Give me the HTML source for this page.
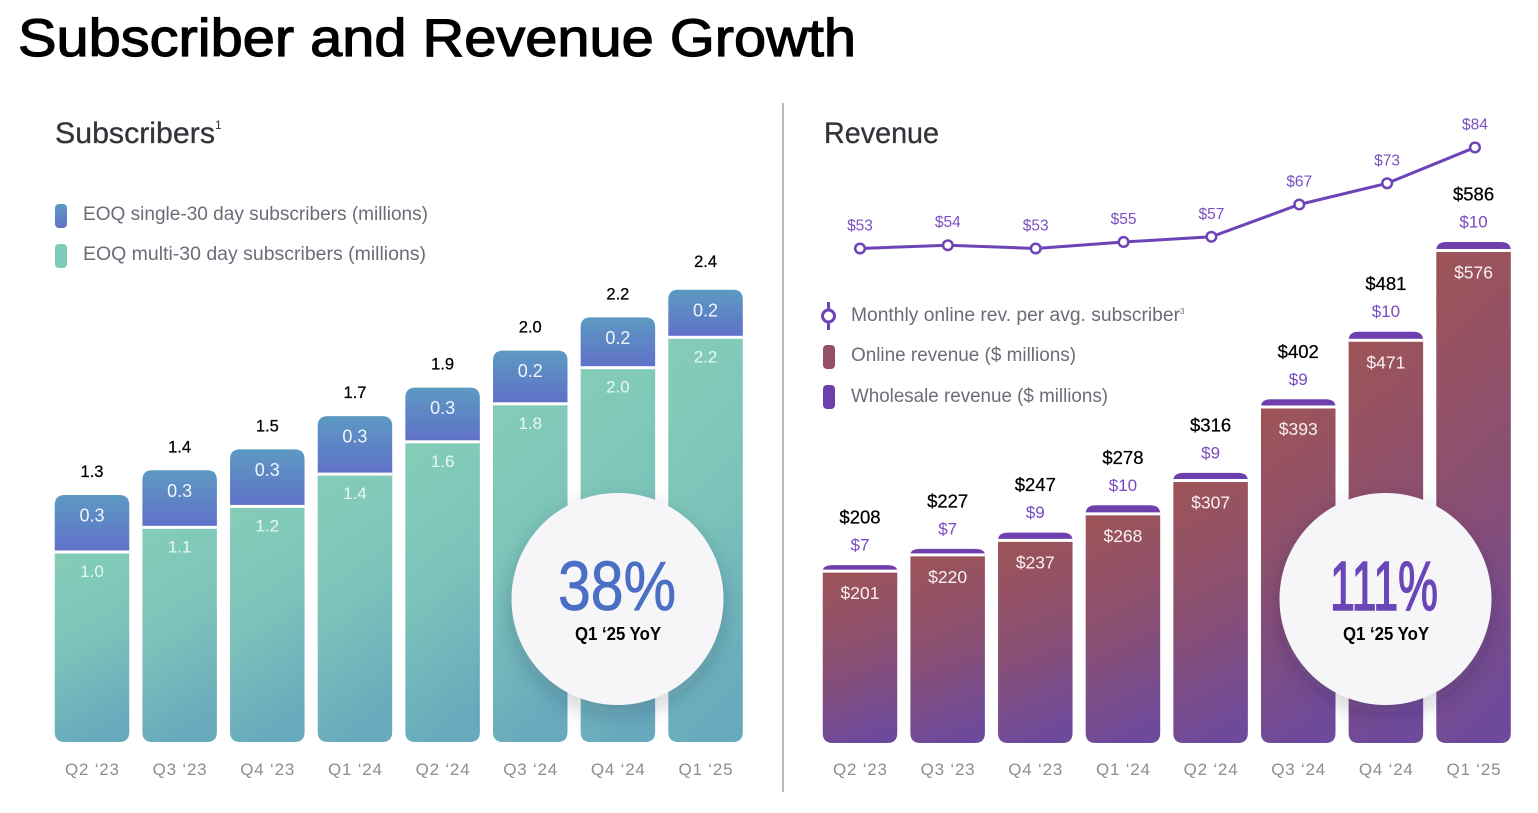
<!DOCTYPE html>
<html lang="en">
<head>
<meta charset="utf-8">
<title>Subscriber and Revenue Growth</title>
<style>
html,body{margin:0;padding:0;background:#fff;}
svg{display:block;}
text{font-family:"Liberation Sans",Arial,sans-serif;}
</style>
</head>
<body>
<svg id="chart" xmlns="http://www.w3.org/2000/svg" width="1538" height="813" viewBox="0 0 1538 813">
  <defs>
    <linearGradient id="gradMulti" x1="0.3" y1="0" x2="0.5" y2="1">
      <stop offset="0" stop-color="#84ccb8"/><stop offset="0.45" stop-color="#7cc4ba"/><stop offset="1" stop-color="#67a9bd"/>
    </linearGradient>
    <linearGradient id="gradSingle" x1="0.5" y1="0" x2="0.5" y2="1">
      <stop offset="0" stop-color="#5c9ac2"/><stop offset="1" stop-color="#6070c8"/>
    </linearGradient>
    <linearGradient id="gradOnline" x1="0.35" y1="0" x2="0.5" y2="1">
      <stop offset="0" stop-color="#9c5459"/><stop offset="0.5" stop-color="#8a4f72"/><stop offset="1" stop-color="#6e4a9c"/>
    </linearGradient>
    <filter id="circleShadow" x="-30%" y="-30%" width="160%" height="160%">
      <feDropShadow dx="0" dy="8" stdDeviation="11" flood-color="#1c1c40" flood-opacity="0.22"/>
    </filter>
  </defs>

  <text x="18" y="56" font-size="53" fill="#000" stroke="#000" stroke-width="1.2" textLength="838" lengthAdjust="spacingAndGlyphs">Subscriber and Revenue Growth</text>
  <line x1="783" y1="103" x2="783" y2="792" stroke="#a0a0a4" stroke-width="1.5"/>

  <text x="55" y="143" font-size="30" fill="#33333a" stroke="#33333a" stroke-width="0.3" textLength="160" lengthAdjust="spacingAndGlyphs">Subscribers</text>
  <text x="215" y="129" font-size="12" fill="#33333a">1</text>
  <text x="824" y="143" font-size="30" fill="#33333a" stroke="#33333a" stroke-width="0.3" textLength="115" lengthAdjust="spacingAndGlyphs">Revenue</text>

  <g>
    <rect x="55" y="204" width="12" height="24" rx="4" fill="url(#gradSingle)"/>
    <text x="83" y="220" font-size="19" fill="#6c6c78" textLength="345" lengthAdjust="spacingAndGlyphs">EOQ single-30 day subscribers (millions)</text>
    <rect x="55" y="244" width="12" height="24" rx="4" fill="#7dcbbb"/>
    <text x="83" y="260" font-size="19" fill="#6c6c78" textLength="343" lengthAdjust="spacingAndGlyphs">EOQ multi-30 day subscribers  (millions)</text>
  </g>

  <g>
    <line x1="828.5" y1="302" x2="828.5" y2="330" stroke="#6d44b8" stroke-width="3"/>
    <circle cx="828.5" cy="316" r="6" fill="#fff" stroke="#6d44b8" stroke-width="3"/>
    <text x="851" y="321" font-size="19" fill="#6c6c78" textLength="329" lengthAdjust="spacingAndGlyphs">Monthly online rev. per avg. subscriber</text>
    <text x="1180" y="314" font-size="8" fill="#6c6c78">3</text>
    <rect x="823" y="345" width="12" height="24" rx="4" fill="#934f68"/>
    <text x="851" y="361" font-size="19" fill="#6c6c78" textLength="225" lengthAdjust="spacingAndGlyphs">Online revenue ($ millions)</text>
    <rect x="823" y="385" width="12" height="24" rx="4" fill="#6d40ad"/>
    <text x="851" y="402" font-size="19" fill="#6c6c78" textLength="257" lengthAdjust="spacingAndGlyphs">Wholesale revenue ($ millions)</text>
  </g>

  <g id="subscribers-plot"></g>
  <g id="revenue-plot"></g>

  <g>
    <circle cx="617.5" cy="599" r="106" fill="#f6f6f9" filter="url(#circleShadow)"/>
    <text x="558" y="610" font-size="70" fill="#4b6fc4" stroke="#4b6fc4" stroke-width="0.8" textLength="118" lengthAdjust="spacingAndGlyphs">38%</text>
    <text x="575" y="640" font-size="18" font-weight="bold" fill="#000" textLength="86" lengthAdjust="spacingAndGlyphs">Q1 ‘25 YoY</text>
  </g>
  <g>
    <circle cx="1385.5" cy="599" r="106" fill="#f6f6f9" filter="url(#circleShadow)"/>
    <text x="1330" y="610" font-size="70" fill="#6b46b8" stroke="#6b46b8" stroke-width="1.6" textLength="108" lengthAdjust="spacingAndGlyphs">111%</text>
    <text x="1343" y="640" font-size="18" font-weight="bold" fill="#000" textLength="86" lengthAdjust="spacingAndGlyphs">Q1 ‘25 YoY</text>
  </g>
</svg>

<script>
// ---- Data ----
const quarters = ["Q2 ‘23", "Q3 ‘23", "Q4 ‘23", "Q1 ‘24", "Q2 ‘24", "Q3 ‘24", "Q4 ‘24", "Q1 ‘25"];

// Subscribers (millions); bar heights estimated finer than the printed rounding
const subscribersMulti = [1.00, 1.13, 1.24, 1.41, 1.58, 1.78, 1.97, 2.13];
const subscribersSingle = [0.30, 0.30, 0.30, 0.305, 0.285, 0.28, 0.265, 0.25];
const printedMulti = ["1.0", "1.1", "1.2", "1.4", "1.6", "1.8", "2.0", "2.2"];
const printedSingle = ["0.3", "0.3", "0.3", "0.3", "0.3", "0.2", "0.2", "0.2"];
const printedSubscriberTotals = ["1.3", "1.4", "1.5", "1.7", "1.9", "2.0", "2.2", "2.4"];

// Revenue ($ millions)
const onlineRevenue = [201, 220, 237, 268, 307, 393, 471, 576];
const wholesaleRevenue = [7, 7, 9, 10, 9, 9, 10, 10];
const printedRevenueTotals = ["$208", "$227", "$247", "$278", "$316", "$402", "$481", "$586"];

// Monthly online revenue per average subscriber ($)
const arpu = [53, 54, 53, 55, 56.6, 66.5, 73, 84];

// ---- Axis functions ----
const SVG_NS = "http://www.w3.org/2000/svg";
const BAR_W = 74.5;
const xSubs = i => 92 + i * 87.65;
const xRev = i => 860 + i * 87.65;
const xArpu = i => 860 + i * 87.85;
const ySubs = v => 742 - v * 190;
const yRev = v => 743 - v * 0.855;
const yArpu = v => 248.5 - (v - 53) * 3.26;

// ---- Drawing helpers ----
function barPath(cx, top, bottom, rTop, rBottom) {
  const l = cx - BAR_W / 2, r = cx + BAR_W / 2, h = bottom - top;
  const ry = Math.min(rTop, h), by = Math.min(rBottom, h);
  return "M" + l + " " + (bottom - by) +
    " L" + l + " " + (top + ry) +
    " Q" + l + " " + top + " " + (l + rTop) + " " + top +
    " L" + (r - rTop) + " " + top +
    " Q" + r + " " + top + " " + r + " " + (top + ry) +
    " L" + r + " " + (bottom - by) +
    " Q" + r + " " + bottom + " " + (r - rBottom) + " " + bottom +
    " L" + (l + rBottom) + " " + bottom +
    " Q" + l + " " + bottom + " " + l + " " + (bottom - by) + " Z";
}
function addPath(parent, d, fill) {
  const p = document.createElementNS(SVG_NS, "path");
  p.setAttribute("d", d);
  p.setAttribute("fill", fill);
  parent.appendChild(p);
  return p;
}
function addLabel(parent, str, x, y, size, fill) {
  const t = document.createElementNS(SVG_NS, "text");
  t.setAttribute("x", x);
  t.setAttribute("y", y);
  t.setAttribute("font-size", size);
  t.setAttribute("fill", fill);
  t.setAttribute("text-anchor", "middle");
  t.textContent = str;
  parent.appendChild(t);
  return t;
}
function addGap(parent, cx, y) {
  const r = document.createElementNS(SVG_NS, "rect");
  r.setAttribute("x", cx - BAR_W / 2);
  r.setAttribute("y", y - 1.5);
  r.setAttribute("width", BAR_W);
  r.setAttribute("height", 3);
  r.setAttribute("fill", "#ffffff");
  parent.appendChild(r);
  return r;
}

// ---- Subscribers chart ----
const subsPlot = document.getElementById("subscribers-plot");
quarters.forEach(function (q, i) {
  const cx = xSubs(i);
  const multiTop = ySubs(subscribersMulti[i]);
  const totalTop = ySubs(subscribersMulti[i] + subscribersSingle[i]);

  const multiBar = addPath(subsPlot, barPath(cx, multiTop, ySubs(0), 0.01, 10), "url(#gradMulti)");
  
  

  const singleBar = addPath(subsPlot, barPath(cx, totalTop, multiTop, 10, 0.01), "url(#gradSingle)");
  
  

  const gap = addGap(subsPlot, cx, multiTop);
  
  

  const lastLift = i === quarters.length - 1 ? 5 : 0;
  const totalLabel = addLabel(subsPlot, printedSubscriberTotals[i], cx, totalTop - 18 - lastLift, 16.5, "#000");
  totalLabel.setAttribute("stroke", "#000");
  totalLabel.setAttribute("stroke-width", "0.25");
  
  

  const singleLabel = addLabel(subsPlot, printedSingle[i], cx, totalTop + 26.5, 18, "#f2f5fb");
  
  

  const multiLabel = addLabel(subsPlot, printedMulti[i], cx, multiTop + 25, 17, "#eaf7f3");
  
  

  const tick = addLabel(subsPlot, q, cx, 775, 17, "#8d8d92");
  tick.setAttribute("textLength", "54");
  tick.setAttribute("lengthAdjust", "spacing");
  
  
});

// ---- Revenue chart ----
const revPlot = document.getElementById("revenue-plot");
quarters.forEach(function (q, i) {
  const cx = xRev(i);
  const onlineTop = yRev(onlineRevenue[i]);
  const totalTop = yRev(onlineRevenue[i] + wholesaleRevenue[i]);

  const onlineBar = addPath(revPlot, barPath(cx, onlineTop, yRev(0), 0.01, 10), "url(#gradOnline)");
  
  

  const wholesaleBar = addPath(revPlot, barPath(cx, totalTop, onlineTop, 10, 0.01), "#6d40ad");
  
  

  const gap = addGap(revPlot, cx, onlineTop);
  
  

  const totalLabel = addLabel(revPlot, printedRevenueTotals[i], cx, totalTop - 41.5, 18.5, "#000");
  totalLabel.setAttribute("stroke", "#000");
  totalLabel.setAttribute("stroke-width", "0.25");
  
  

  const wholesaleLabel = addLabel(revPlot, "$" + wholesaleRevenue[i], cx, totalTop - 14.5, 17, "#7748c0");
  
  

  const onlineLabel = addLabel(revPlot, "$" + onlineRevenue[i], cx, onlineTop + 28, 17.5, "#f8f0f2");
  
  

  const tick = addLabel(revPlot, q, cx, 775, 17, "#8d8d92");
  tick.setAttribute("textLength", "54");
  tick.setAttribute("lengthAdjust", "spacing");
  
  
});

// ---- ARPU line ----
const arpuD = arpu.map(function (v, i) {
  return (i ? "L" : "M") + xArpu(i) + " " + yArpu(v);
}).join(" ");
const arpuLine = addPath(revPlot, arpuD, "none");
arpuLine.setAttribute("stroke", "#6d44b8");
arpuLine.setAttribute("stroke-width", "3");



arpu.forEach(function (v, i) {
  const pt = document.createElementNS(SVG_NS, "circle");
  pt.setAttribute("cx", xArpu(i));
  pt.setAttribute("cy", yArpu(v));
  pt.setAttribute("r", 4.8);
  pt.setAttribute("fill", "#ffffff");
  pt.setAttribute("stroke", "#6d44b8");
  pt.setAttribute("stroke-width", "2.5");
  
  
  revPlot.appendChild(pt);

  const lab = addLabel(revPlot, "$" + Math.round(v), xArpu(i), yArpu(v) - 18, 15.5, "#7a4fc0");
  
  
});
</script>
</body>
</html>
